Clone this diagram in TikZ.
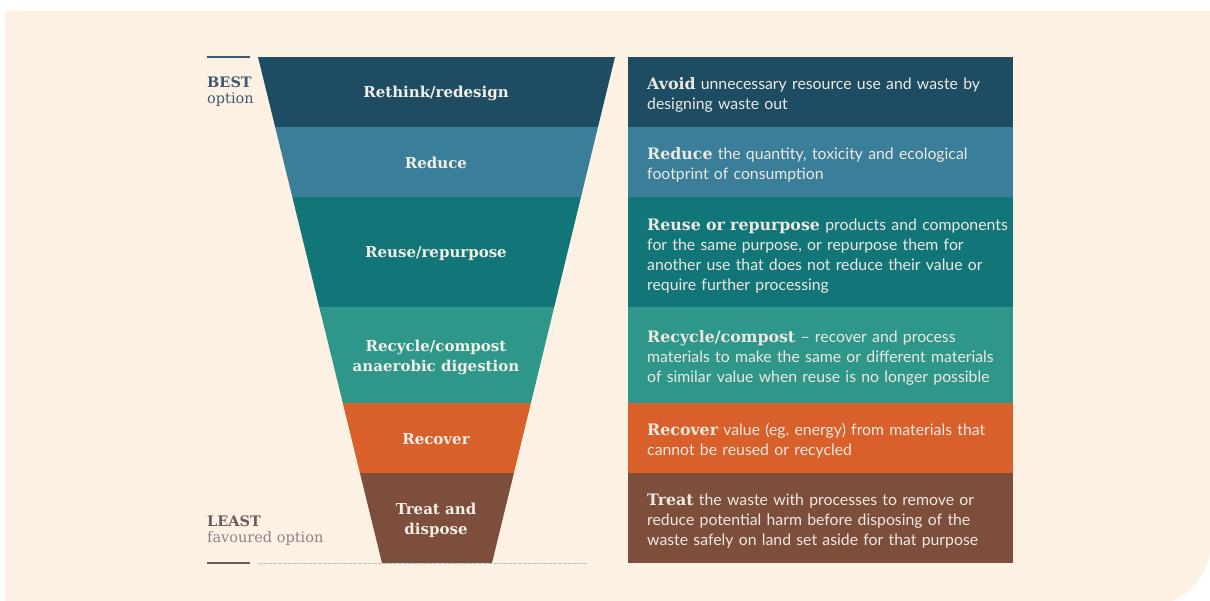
\documentclass[tikz,border=0pt]{standalone}
\usepackage{fontspec}
\setmainfont{Lato}
\newfontfamily\headfont{DejaVu Serif}
\usetikzlibrary{positioning}
\definecolor{cream}{HTML}{FCF1E3}
\definecolor{cRethink}{HTML}{1E4D63}
\definecolor{cReduce}{HTML}{3A7E9A}
\definecolor{cReuse}{HTML}{127578}
\definecolor{cRecycle}{HTML}{2F978A}
\definecolor{cRecover}{HTML}{D95F2B}
\definecolor{cTreat}{HTML}{7D4E3B}
\definecolor{tiertext}{HTML}{F1EFE6}
\definecolor{desctext}{HTML}{ECE9E1}
\definecolor{bestink}{HTML}{3F5A70}
\definecolor{leastink}{HTML}{6E5A5C}
\definecolor{rulegrey}{HTML}{B9C7CC}
\newcommand{\lead}[1]{{\headfont\bfseries #1}}

\begin{document}
\begin{tikzpicture}[
  x=1pt, y=-1pt,
  tier/.style={font=\headfont\bfseries\fontsize{15}{20}\selectfont,
               text=tiertext, align=center},
  band/.style={anchor=north west, minimum width=385pt, inner sep=0pt,
               outer sep=0pt},
  desc/.style={anchor=west, text width=375pt, inner sep=0pt, align=left,
               text=desctext, font=\fontsize{15.8}{20}\selectfont},
  side/.style={anchor=west, inner sep=0pt, align=left,
               font=\headfont\fontsize{14.5}{16}\selectfont}
]
  \useasboundingbox (0,0) rectangle (1210,601);
  \fill[white] (0,0) rectangle (1210,601);
  % Cream panel
  \fill[cream] (5,11) -- (1210,11) -- (1210,545)
    .. controls (1210,578) and (1183,605) .. (1150,605) -- (5,605) -- cycle;

  % Rules at top and bottom
  \draw[bestink, line width=2pt] (207,57) -- (250,57);
  \draw[leastink!80!bestink, line width=2pt] (207,563) -- (250,563);
  \draw[rulegrey, line width=0.8pt, dashed, dash pattern=on 4pt off 1pt] (258,563) -- (587,563);

  % Funnel
  \begin{scope}
    \clip (258,57) -- (615,57) -- (492,563) -- (382,563) -- cycle;
    \fill[cRethink] (250,57) rectangle (620,127);
    \fill[cReduce] (250,127) rectangle (620,197);
    \fill[cReuse] (250,197) rectangle (620,307);
    \fill[cRecycle] (250,307) rectangle (620,403);
    \fill[cRecover] (250,403) rectangle (620,473);
    \fill[cTreat] (250,473) rectangle (620,563);
  \end{scope}

  % Funnel labels
  \node[tier] (rethink) at (436,93) {Rethink/redesign};
  \node[tier] (reduce) at (436,163) {Reduce};
  \node[tier] (reuse) at (436,254) {Reuse/repurpose};
  \node[tier] (recycle) at (436,357) {Recycle/compost\\anaerobic digestion};
  \node[tier] (recover) at (436,439) {Recover};
  \node[tier] (treat) at (436,520) {Treat and\\dispose};

  % Side labels
  \node[side, text=bestink] (best) at (207,92)
    {\bfseries BEST\\option};
  \node[side, text=leastink] (least) at (207,531)
    {\bfseries LEAST\\{\color{leastink!75}favoured option}};

  % Description bands
  \node[band, fill=cRethink, minimum height=70pt] (avoidband) at (628,57) {};
  \node[band, fill=cReduce, minimum height=70pt, below=0pt of avoidband.south west, anchor=north west] (lessenband) {};
  \node[band, fill=cReuse, minimum height=110pt, below=0pt of lessenband.south west, anchor=north west] (repurposeband) {};
  \node[band, fill=cRecycle, minimum height=96pt, below=0pt of repurposeband.south west, anchor=north west] (compostband) {};
  \node[band, fill=cRecover, minimum height=70pt, below=0pt of compostband.south west, anchor=north west] (energyband) {};
  \node[band, fill=cTreat, minimum height=90pt, below=0pt of energyband.south west, anchor=north west] (disposeband) {};

  % Description texts
  \node[desc] (avoid) at (647,95)
    {\lead{Avoid} unnecessary resource use and waste by\\
     designing waste out};
  \node[desc] (lessen) at (647,165)
    {\lead{Reduce} the quantity, toxicity and ecological\\
     footprint of consumption};
  \node[desc] (repurpose) at (647,256)
    {\lead{Reuse or repurpose} products and components\\
     for the same purpose, or repurpose them for\\
     another use that does not reduce their value or\\
     require further processing};
  \node[desc] (compost) at (647,358)
    {\lead{Recycle/compost} -- recover and process\\
     materials to make the same or different materials\\
     of similar value when reuse is no longer possible};
  \node[desc] (energy) at (647,441)
    {\lead{Recover} value (eg.\ energy) from materials that\\
     cannot be reused or recycled};
  \node[desc] (dispose) at (647,521)
    {\lead{Treat} the waste with processes to remove or\\
     reduce potential harm before disposing of the\\
     waste safely on land set aside for that purpose};
\end{tikzpicture}
\end{document}
